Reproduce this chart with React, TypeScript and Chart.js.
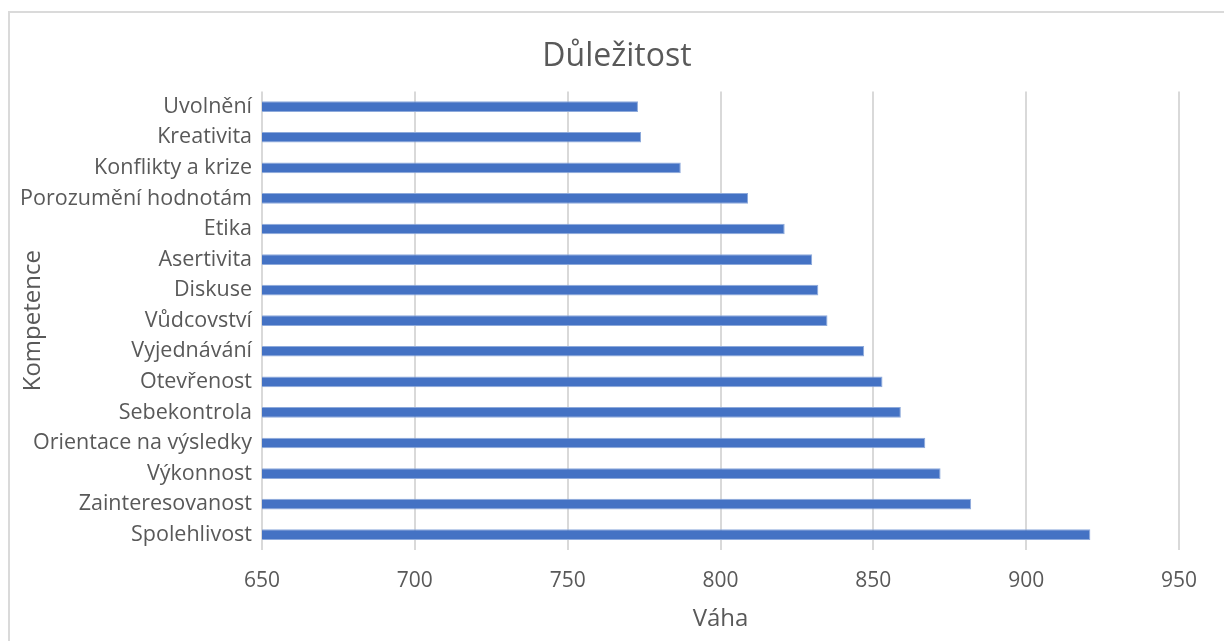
import React, { useEffect, useRef } from "react";
import { Chart, registerables } from "chart.js";

Chart.register(...registerables);

const categories: string[] = [
  "Uvolnění",
  "Kreativita",
  "Konflikty a krize",
  "Porozumění hodnotám",
  "Etika",
  "Asertivita",
  "Diskuse",
  "Vůdcovství",
  "Vyjednávání",
  "Otevřenost",
  "Sebekontrola",
  "Orientace na výsledky",
  "Výkonnost",
  "Zainteresovanost",
  "Spolehlivost",
];

const weights: number[] = [773, 774, 787, 809, 821, 830, 832, 835, 847, 853, 859, 867, 872, 882, 921];

const xMin = 650;
const xMax = 950;
const xStep = 50;

const chartTitle = "Důležitost";
const xTitle = "Váha";
const yTitle = "Kompetence";

const FONT = "'Open Sans', Lato, sans-serif";
const TEXT = "#595959";

export default function App() {
  const ref = useRef<HTMLCanvasElement | null>(null);

  useEffect(() => {
    document.body.style.overflow = "hidden";
    const canvas = ref.current;
    if (!canvas) return;
    const chart = new Chart(canvas, {
      type: "bar",
      data: {
        labels: categories,
        datasets: [
          {
            label: chartTitle,
            data: weights,
            backgroundColor: "#4472C4",
            borderColor: "#8eaadb",
            borderWidth: 1,
            barPercentage: 0.35,
            categoryPercentage: 1,
          },
        ],
      },
      options: {
        indexAxis: "y",
        animation: false,
        responsive: false,
        maintainAspectRatio: false,
        layout: { padding: 0 },
        plugins: {
          legend: { display: false },
          tooltip: { enabled: false },
          title: {
            display: true,
            text: chartTitle,
            color: TEXT,
            font: { family: FONT, size: 32, weight: "normal" },
            padding: { top: 25, bottom: 15 },
          },
        },
        scales: {
          x: {
            type: "linear",
            min: xMin,
            max: xMax,
            ticks: {
              stepSize: xStep,
              color: TEXT,
              font: { family: FONT, size: 21 },
              padding: 18,
            },
            grid: { color: "#d9d9d9", lineWidth: 2, drawTicks: false },
            border: { display: false },
            title: {
              display: true,
              text: xTitle,
              color: TEXT,
              font: { family: FONT, size: 24 },
              padding: { top: 0, bottom: 7 },
            },
            afterFit: (scale: any) => {
              scale.height = 91;
            },
          },
          y: {
            type: "category",
            ticks: {
              color: TEXT,
              font: { family: FONT, size: 21.5 },
              padding: 10,
            },
            grid: { display: false, drawTicks: false },
            border: { display: false },
            title: {
              display: true,
              text: yTitle,
              color: TEXT,
              font: { family: FONT, size: 24 },
              padding: { top: 9, bottom: 0 },
            },
            afterFit: (scale: any) => {
              scale.width = 252;
            },
          },
          yRightSpace: {
            type: "category",
            position: "right",
            display: true,
            ticks: { display: false },
            grid: { display: false, drawTicks: false },
            border: { display: false },
            afterFit: (scale: any) => {
              scale.width = 45;
            },
          },
        },
      },
    });
    return () => chart.destroy();
  }, []);

  return (
    <div
      style={{
        position: "absolute",
        left: 8,
        top: 11,
        width: 1216,
        height: 630,
        boxSizing: "border-box",
        borderTop: "2px solid #dadada",
        borderLeft: "2px solid #dadada",
        background: "#fff",
        overflow: "hidden",
      }}
    >
      <canvas ref={ref} width={1214} height={628} style={{ display: "block", width: 1214, height: 628 }} />
    </div>
  );
}
